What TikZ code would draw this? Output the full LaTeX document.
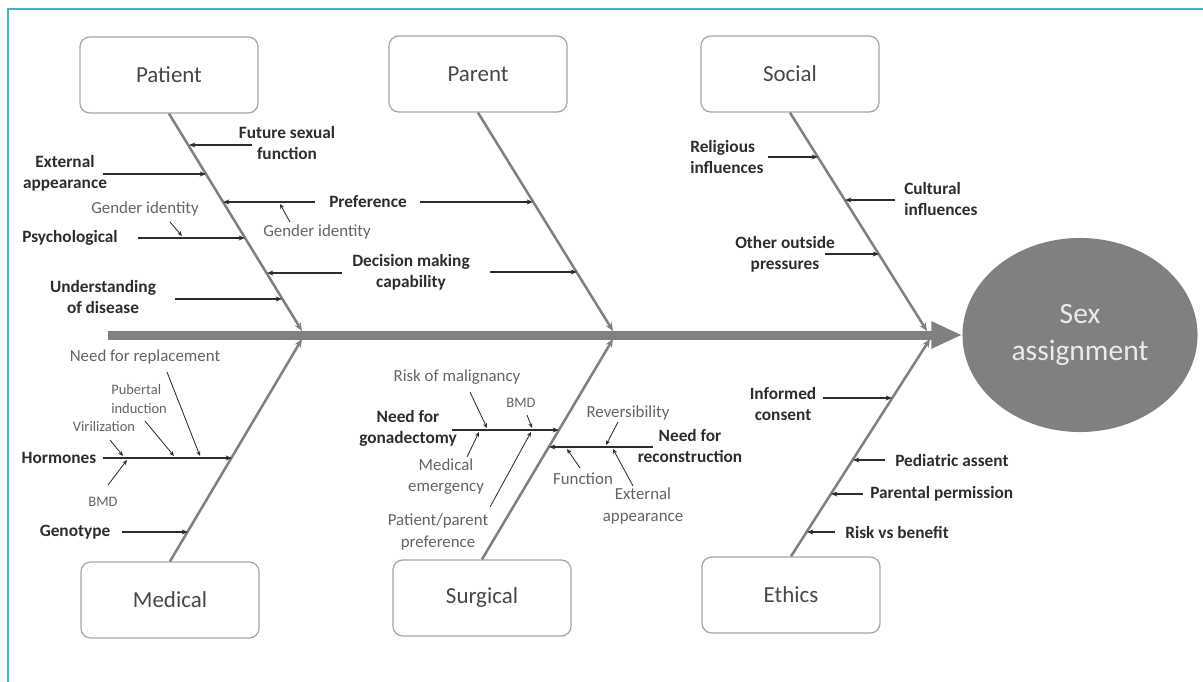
\documentclass[tikz,border=0pt]{standalone}
\usepackage{fontspec}
\setmainfont{Carlito}
\usetikzlibrary{shapes.geometric, arrows.meta, positioning, calc}
\definecolor{frameblue}{RGB}{75,172,198}
\definecolor{bonegray}{RGB}{128,128,128}
\definecolor{inkdark}{RGB}{45,45,45}
\definecolor{inklight}{RGB}{100,100,100}

\begin{document}
\begin{tikzpicture}[x=0.025cm, y=-0.025cm,
  category/.style={rectangle, draw=black!35, line width=0.9pt, rounded corners=7pt, minimum width=4.45cm, minimum height=1.9cm, font=\fontsize{16.3}{19}\selectfont, text=black!72},
  cause/.style={font=\fontsize{12.3}{15}\selectfont\bfseries, text=inkdark, align=center, inner sep=0pt},
  detail/.style={font=\fontsize{12}{15}\selectfont, text=inklight, align=center, inner sep=0pt},
  minor/.style={font=\fontsize{10.3}{13.5}\selectfont, text=inklight, align=left, inner sep=0pt},
  bone/.style={draw=bonegray, line width=1.8pt, -{Stealth[length=6pt, width=5pt]}},
  spine/.style={draw=bonegray, line width=6.4pt, -{Triangle[length=22pt, width=18pt]}},
  sub/.style={draw=inkdark, line width=0.75pt, -{Stealth[length=4.5pt, width=3.5pt]}},
  subsub/.style={draw=inkdark, line width=0.6pt, -{Stealth[length=3.5pt, width=3pt]}}]
  \useasboundingbox (0,0) rectangle (1203,682);
  \draw[frameblue, line width=1.4pt] (8,682) -- (8,9) -- (1203,9);

  % categories and effect
  \node[category] (pat) at (169,75) {Patient};
  \node[category] (par) at (478,74) {Parent};
  \node[category] (soc) at (790,74) {Social};
  \node[category] (med) at (170,600) {Medical};
  \node[category] (sur) at (482,598) {Surgical};
  \node[category] (eth) at (791,595) {Ethics};
  \node[ellipse, fill=bonegray, minimum width=5.875cm, minimum height=4.85cm, align=center, inner sep=0pt,
        text=white!92!black, font=\fontsize{21}{26}\selectfont] (sex) at (1080,335) {Sex\\assignment};

  % spine and bones
  \coordinate (tail) at (108,335);
  \draw[spine] (tail) -- (sex.west);
  \coordinate (jPat) at (302,331);
  \coordinate (jPar) at (613,331);
  \coordinate (jSoc) at (927,331);
  \coordinate (jMed) at (302,339);
  \coordinate (jSur) at (613,339);
  \coordinate (jEth) at (930,339);
  \draw[bone] (pat.south) -- (jPat);
  \draw[bone] (par.south) -- (jPar);
  \draw[bone] (soc.south) -- (jSoc);
  \draw[bone] (med.north) -- (jMed);
  \draw[bone] (sur.north) -- (jSur);
  \draw[bone] (eth.north) -- (jEth);

  % Patient / Parent
  \node[cause] (fs) at (287,143) {Future sexual\\function};
  \node[cause] (ext) at (65,173) {External\\appearance};
  \node[cause] (pref) at (368,202) {Preference};
  \node[detail] (gi1) at (317,232) {Gender identity};
  \node[cause] (psy) at (70,238) {Psychological};
  \node[detail] (gi2) at (145,209) {Gender identity};
  \node[cause] (dm) at (411,272) {Decision making\\capability};
  \node[cause] (und) at (103,297) {Understanding\\of disease};
  \coordinate (fsA) at (252,145);  \coordinate (fsB) at (189,145);
  \coordinate (extA) at (103,174); \coordinate (extB) at (206,174);
  \coordinate (prA) at (315,202);  \coordinate (prB) at (223,202);
  \coordinate (prC) at (420,202);  \coordinate (prD) at (533,202);
  \coordinate (psyA) at (138,238); \coordinate (psyB) at (245,238);
  \coordinate (dmA) at (342,273);  \coordinate (dmB) at (267,273);
  \coordinate (dmC) at (490,272);  \coordinate (dmD) at (577,272);
  \coordinate (undA) at (175,299); \coordinate (undB) at (282,299);
  \coordinate (gi1A) at (290,222); \coordinate (gi1B) at (280,204);
  \coordinate (gi2A) at (170,222); \coordinate (gi2B) at (182,236);
  \draw[sub] (fsA) -- (fsB);
  \draw[sub] (extA) -- (extB);
  \draw[sub] (prA) -- (prB);
  \draw[sub] (prC) -- (prD);
  \draw[sub] (psyA) -- (psyB);
  \draw[sub] (dmA) -- (dmB);
  \draw[sub] (dmC) -- (dmD);
  \draw[sub] (undA) -- (undB);
  \draw[subsub] (gi1A) -- (gi1B);
  \draw[subsub] (gi2A) -- (gi2B);

  % Social
  \node[cause, anchor=west, align=left] (rel) at (690,157) {Religious\\influences};
  \node[cause, anchor=west, align=left] (cul) at (904,199) {Cultural\\influences};
  \node[cause] (oth) at (785,254) {Other outside\\pressures};
  \coordinate (relA) at (768,157); \coordinate (relB) at (818,157);
  \coordinate (culA) at (895,200); \coordinate (culB) at (845,200);
  \coordinate (othA) at (825,254); \coordinate (othB) at (879,254);
  \draw[sub] (relA) -- (relB);
  \draw[sub] (culA) -- (culB);
  \draw[sub] (othA) -- (othB);

  % Medical
  \node[detail] (rep) at (145,357) {Need for replacement};
  \node[cause] (hor) at (59,458) {Hormones};
  \node[minor, anchor=west] (pub) at (111,399) {Pubertal\\induction};
  \node[minor] (vir) at (104,427) {Virilization};
  \node[minor] (bmd1) at (103,502) {BMD};
  \node[cause] (gen) at (75,532) {Genotype};
  \coordinate (horA) at (103,458); \coordinate (horB) at (232,458);
  \coordinate (genA) at (122,532); \coordinate (genB) at (188,532);
  \coordinate (repA) at (167,372); \coordinate (repB) at (200,456);
  \coordinate (pubA) at (145,421); \coordinate (pubB) at (174,456);
  \coordinate (virA) at (110,440); \coordinate (virB) at (123,456);
  \coordinate (bmdA) at (108,485); \coordinate (bmdB) at (127,460);
  \draw[sub] (horA) -- (horB);
  \draw[sub] (genA) -- (genB);
  \draw[subsub] (repA) -- (repB);
  \draw[subsub] (pubA) -- (pubB);
  \draw[subsub] (virA) -- (virB);
  \draw[subsub] (bmdA) -- (bmdB);

  % Surgical
  \node[cause] (gon) at (408,428) {Need for\\gonadectomy};
  \node[detail] (mal) at (457,377) {Risk of malignancy};
  \node[minor] (bmd2) at (521,403) {BMD};
  \node[detail] (eme) at (446,477) {Medical\\emergency};
  \node[detail] (ppp) at (438,532) {Patient/parent\\preference};
  \node[cause] (rec) at (690,446) {Need for\\reconstruction};
  \node[detail] (rev) at (628,413) {Reversibility};
  \node[detail] (fun) at (583,479) {Function};
  \node[detail] (exa) at (643,506) {External\\appearance};
  \coordinate (gonA) at (452,430); \coordinate (gonB) at (559,430);
  \coordinate (malA) at (470,392); \coordinate (malB) at (487,428);
  \coordinate (bmcA) at (527,415); \coordinate (bmcB) at (532,428);
  \coordinate (emeA) at (467,457); \coordinate (emeB) at (479,432);
  \coordinate (pppA) at (490,507); \coordinate (pppB) at (531,432);
  \coordinate (recA) at (653,447); \coordinate (recB) at (549,447);
  \coordinate (revA) at (618,422); \coordinate (revB) at (606,445);
  \coordinate (funA) at (580,468); \coordinate (funB) at (567,449);
  \coordinate (exaA) at (633,486); \coordinate (exaB) at (613,449);
  \draw[sub] (gonA) -- (gonB);
  \draw[sub] (recA) -- (recB);
  \draw[subsub] (malA) -- (malB);
  \draw[subsub] (bmcA) -- (bmcB);
  \draw[subsub] (emeA) -- (emeB);
  \draw[subsub] (pppA) -- (pppB);
  \draw[subsub] (revA) -- (revB);
  \draw[subsub] (funA) -- (funB);
  \draw[subsub] (exaA) -- (exaB);

  % Ethics
  \node[cause] (inf) at (783,404) {Informed\\consent};
  \node[cause, anchor=west] (ped) at (895,460) {Pediatric assent};
  \node[cause, anchor=west] (prm) at (870,494) {Parental permission};
  \node[cause, anchor=west] (rvb) at (845,532) {Risk vs benefit};
  \coordinate (infA) at (823,398); \coordinate (infB) at (892,398);
  \coordinate (pedA) at (885,460); \coordinate (pedB) at (853,460);
  \coordinate (prmA) at (863,494); \coordinate (prmB) at (831,494);
  \coordinate (rvbA) at (835,532); \coordinate (rvbB) at (807,532);
  \draw[sub] (infA) -- (infB);
  \draw[sub] (pedA) -- (pedB);
  \draw[sub] (prmA) -- (prmB);
  \draw[sub] (rvbA) -- (rvbB);
\end{tikzpicture}
\end{document}
